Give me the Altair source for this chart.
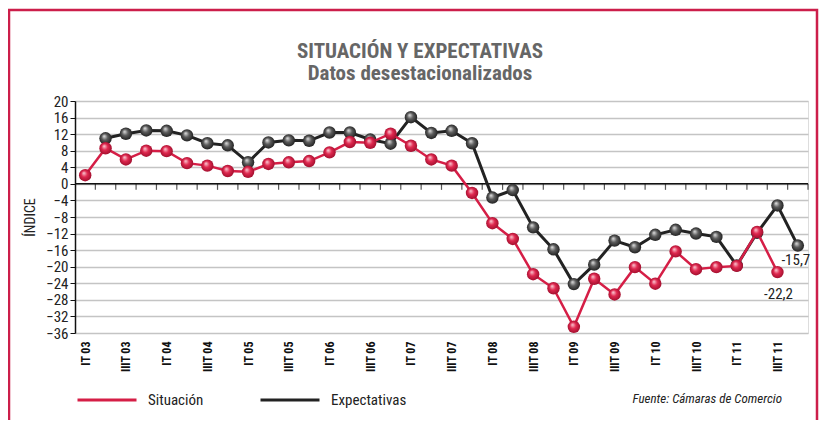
import altair as alt
import pandas as pd

# ---- data ----
quarters = []
for yy in ["03", "04", "05", "06", "07", "08", "09", "10", "11"]:
    for q in ["I", "II", "III", "IV"]:
        quarters.append(f"{q}T {yy}")

# Situación: I T 03 .. III T 11
situacion = [2.1, 8.6, 5.9, 8.0, 7.9, 5.0, 4.4, 3.1, 2.9, 4.8, 5.2, 5.5,
             7.6, 10.1, 9.9, 12.1, 9.2, 5.9, 4.4, -2.2, -9.5, -13.3, -21.8, -25.2,
             -34.5, -22.9, -26.7, -20.1, -24.1, -16.3, -20.6, -20.1, -19.8, -11.6, -21.3]
# Expectativas: II T 03 .. IV T 11
expectativas = [11.0, 12.1, 12.9, 12.8, 11.7, 9.8, 9.3, 5.2, 10.0, 10.5, 10.4,
                12.4, 12.4, 10.7, 9.7, 16.1, 12.3, 12.8, 9.8, -3.3, -1.5, -10.5, -15.8,
                -24.2, -19.5, -13.7, -15.3, -12.3, -11.1, -12.0, -12.8, -19.7, -11.8, -5.2, -14.9]

series_names = ["Situación", "Expectativas"]
end_labels = ["-22,2", "-15,7"]
y_ticks = list(range(-36, 21, 4))
title_lines = ["SITUACIÓN Y EXPECTATIVAS", "Datos desestacionalizados"]
source_text = "Fuente: Cámaras de Comercio"

FONT = "Liberation Sans Narrow, Roboto Condensed, DejaVu Sans Condensed, Arial Narrow, sans-serif"
RED = "#d51e46"
BLACK = "#222222"

sit_df = pd.DataFrame({"idx": list(range(0, len(situacion))), "val": situacion,
                       "serie": series_names[0]})
exp_df = pd.DataFrame({"idx": list(range(1, 1 + len(expectativas))), "val": expectativas,
                       "serie": series_names[1]})
sit_end = sit_df.tail(1).assign(label=end_labels[0])
exp_end = exp_df.tail(1).assign(label=end_labels[1])
bounds_df = pd.DataFrame({"b": [i + 0.5 for i in range(len(quarters))], "z": 0})
zero_df = pd.DataFrame({"z": [0]})

W, H = 733, 232
label_expr = "[" + ",".join(f"'{q}'" for q in quarters) + "][datum.value]"

xscale = alt.Scale(domain=[-0.5, len(quarters) - 0.5], nice=False, zero=False)
yscale = alt.Scale(domain=[-36, 20], nice=False, zero=False)
cscale = alt.Scale(domain=series_names, range=[RED, BLACK])

x_axis = alt.Axis(values=list(range(0, len(quarters), 2)), labelExpr=label_expr,
                  labelAngle=270, labelAlign="right", labelBaseline="middle",
                  labelPadding=8, labelFontSize=12, labelFontWeight="bold",
                  labelColor="#111", labelFont=FONT, labelOverlap=False,
                  domain=False, ticks=False, grid=False, title=None)
y_axis = alt.Axis(values=y_ticks, grid=True, gridColor="#c4c4c4", gridWidth=1.5,
                  domainColor="#111", domainWidth=1.5, tickColor="#111", tickSize=5,
                  labelFontSize=15, labelColor="#222", labelFont=FONT, labelPadding=2,
                  labelOverlap=False, labelBound=False,
                  title="ÍNDICE", titleFont=FONT, titleFontSize=14,
                  titleFontWeight="normal", titleColor="#222", titlePadding=8)

legend = alt.Legend(orient="none", legendX=1, legendY=268, direction="horizontal",
                    title=None, symbolType="stroke", symbolSize=3481,
                    symbolStrokeWidth=3, labelFont=FONT, labelFontSize=15,
                    labelColor="#222", labelOffset=10, columnPadding=50, padding=0)

def sphere(c0, c1, c2):
    return {"gradient": "radial", "x1": 0.38, "y1": 0.32, "r1": 0.0,
            "x2": 0.5, "y2": 0.5, "r2": 0.55,
            "stops": [{"offset": 0.0, "color": c0}, {"offset": 0.45, "color": c1},
                      {"offset": 1.0, "color": c2}]}

X = alt.X("idx:Q", scale=xscale, axis=x_axis)
Y = alt.Y("val:Q", scale=yscale, axis=y_axis)

frame = alt.Chart(pd.DataFrame({"a": [0]})).mark_rect(
    fill="transparent", stroke="#cc1e4a", strokeWidth=2.5
).encode(x=alt.value(-66), x2=alt.value(W + 9), y=alt.value(-91), y2=alt.value(H + 120))

title1 = alt.Chart(pd.DataFrame({"t": [title_lines[0]]})).mark_text(
    font=FONT, fontSize=21, fontWeight="bold", color="#666", align="center"
).encode(x=alt.value(345), y=alt.value(-49), text="t:N")
title2 = alt.Chart(pd.DataFrame({"t": [title_lines[1]]})).mark_text(
    font=FONT, fontSize=21, fontWeight="bold", color="#666", align="center"
).encode(x=alt.value(345), y=alt.value(-27), text="t:N")

zero_rule = alt.Chart(zero_df).mark_rule(color="#111", strokeWidth=1.5).encode(
    y=alt.Y("z:Q", scale=yscale, axis=y_axis))

ticks = alt.Chart(bounds_df).mark_tick(color="#111", thickness=1.2, size=6, orient="vertical").encode(
    x=alt.X("b:Q", scale=xscale, axis=x_axis),
    y=alt.Y("z:Q", scale=yscale, axis=y_axis), yOffset=alt.value(3))

exp_line = alt.Chart(exp_df).mark_line(strokeWidth=3).encode(
    x=X, y=Y, color=alt.Color("serie:N", scale=cscale, legend=legend))
exp_pts = alt.Chart(exp_df).mark_circle(
    size=155, opacity=1, fill=sphere("#e6e6e6", "#5c5c5c", "#1a1a1a")
).encode(x=X, y=Y)
sit_line = alt.Chart(sit_df).mark_line(strokeWidth=2.5).encode(
    x=X, y=Y, color=alt.Color("serie:N", scale=cscale, legend=legend))
sit_pts = alt.Chart(sit_df).mark_circle(
    size=155, opacity=1, fill=sphere("#fbd3da", "#e0284f", "#9a0c2a")
).encode(x=X, y=Y)

sit_txt = alt.Chart(sit_end).mark_text(fontSize=15, font=FONT, color="#222", dx=1, dy=22).encode(
    x=X, y=Y, text="label:N")
exp_txt = alt.Chart(exp_end).mark_text(fontSize=15, font=FONT, color="#222", dx=-2, dy=14).encode(
    x=X, y=Y, text="label:N")

source = alt.Chart(pd.DataFrame({"t": [source_text]})).mark_text(
    align="right", baseline="middle", fontSize=13, fontStyle="italic", font=FONT, color="#222"
).encode(x=alt.value(707), y=alt.value(298), text="t:N")

chart = alt.layer(
    frame, title1, title2, zero_rule, ticks, exp_line, exp_pts, sit_line, sit_pts,
    sit_txt, exp_txt, source
).properties(
    width=W, height=H,
    autosize=alt.AutoSizeParams(type="none"),
    padding={"left": 67, "top": 93, "right": 11, "bottom": 87},
).configure_view(stroke=None).configure(background="white")

chart.save("out.html", embed_options={"renderer": "svg", "actions": False})
